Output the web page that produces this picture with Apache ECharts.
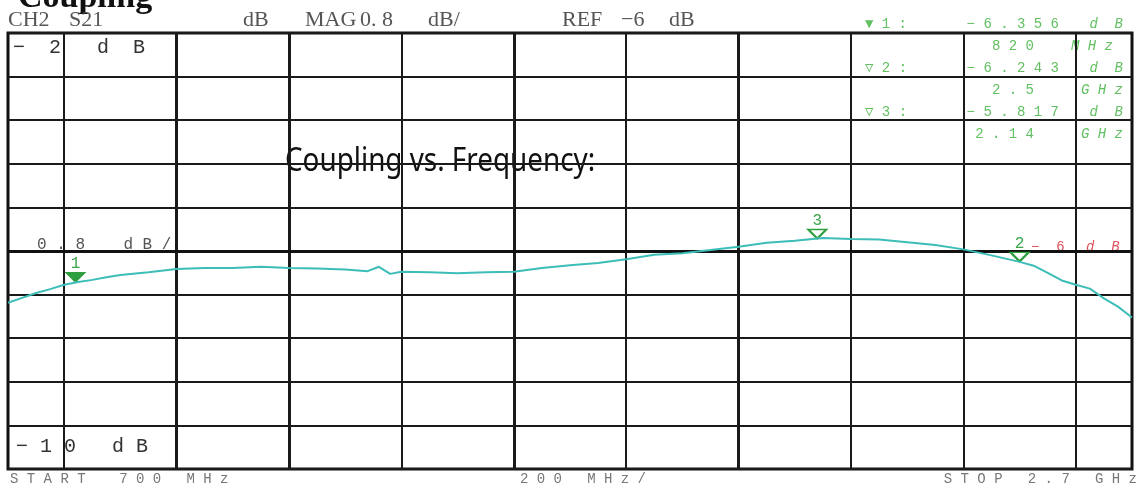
<!DOCTYPE html>
<html>
<head>
<meta charset="utf-8">
<script src="https://cdn.jsdelivr.net/npm/echarts@6/dist/echarts.min.js"></script>
<style>
html,body{margin:0;padding:0;background:#fff;}
#chart{width:1139px;height:487px;}
</style>
</head>
<body>
<div id="chart"></div>
<script>
const freqMHz = [700, 725, 750, 775, 800, 825, 850, 875, 900, 950, 1000, 1050, 1100, 1150, 1200, 1250, 1300, 1340, 1360, 1380, 1400, 1450, 1500, 1550, 1600, 1650, 1700, 1750, 1800, 1850, 1900, 1950, 2000, 2050, 2100, 2150, 2200, 2250, 2300, 2350, 2400, 2450, 2500, 2525, 2550, 2575, 2600, 2625, 2650, 2675, 2700];
const s21dB = [-6.95, -6.86, -6.77, -6.70, -6.62, -6.57, -6.53, -6.48, -6.44, -6.39, -6.33, -6.31, -6.31, -6.29, -6.31, -6.32, -6.34, -6.37, -6.29, -6.42, -6.38, -6.39, -6.41, -6.39, -6.38, -6.31, -6.26, -6.22, -6.15, -6.07, -6.04, -5.98, -5.92, -5.85, -5.81, -5.76, -5.78, -5.79, -5.84, -5.89, -5.97, -6.08, -6.20, -6.27, -6.40, -6.54, -6.62, -6.69, -6.87, -7.02, -7.22];

// Vertical graticule positions (MHz) and which of them print heavier
const xGridMHz = [800, 1000, 1200, 1400, 1600, 1800, 2000, 2200, 2400, 2600];
const xGridHeavy = [false, true, true, false, true, false, true, false, false, false];

// Markers
const markerNames = ['1', '2', '3'];
const markerFreqMHz = [820, 2500, 2140];
const markerPlotDb = [-6.58, -6.20, -5.78];
const markerReadDb = ['−6.356', '−6.243', '−5.817'];
const markerReadFreq = ['820', '2.5', '2.14'];
const markerReadUnit = ['MHz', 'GHz', 'GHz'];

// Axis settings
const startMHz = 700, stopMHz = 2700;
const topDb = -2, bottomDb = -10, stepDb = 0.8, refDb = -6;

const chart = echarts.init(document.getElementById('chart'));
const sp = s => s.split('').join(' ');
const serif = '"Liberation Serif","DejaVu Serif",serif';
const mono = '"Liberation Mono","DejaVu Sans Mono",monospace';
const green = '#62c062';
const red = '#e0505a';
const hdr = '#555';

const graphics = [
  {type:'text', left: 18, top: -19, style:{text:'Coupling', font:'bold 34px ' + serif, fill:'#111'}},
  {type:'text', left: 8, top: 9, style:{text:'CH2', font:'22px ' + serif, fill:hdr}},
  {type:'text', left: 69, top: 9, style:{text:'S21', font:'22px ' + serif, fill:hdr}},
  {type:'text', left: 243, top: 9, style:{text:'dB', font:'22px ' + serif, fill:hdr}},
  {type:'text', left: 305, top: 9, style:{text:'MAG', font:'22px ' + serif, fill:hdr}},
  {type:'text', left: 360, top: 9, style:{text:'0. 8', font:'22px ' + serif, fill:hdr}},
  {type:'text', left: 428, top: 9, style:{text:'dB/', font:'22px ' + serif, fill:hdr}},
  {type:'text', left: 562, top: 9, style:{text:'REF', font:'22px ' + serif, fill:hdr}},
  {type:'text', left: 621, top: 9, style:{text:'−6', font:'22px ' + serif, fill:hdr}},
  {type:'text', left: 669, top: 9, style:{text:'dB', font:'22px ' + serif, fill:hdr}},
  {type:'text', left: 13, top: 38, style:{text:'−  2', font:'20px ' + mono, fill:'#333'}},
  {type:'text', left: 97, top: 38, style:{text:'d  B', font:'20px ' + mono, fill:'#333'}},
  {type:'rect', shape:{x: 35, y: 234, width: 138, height: 23}, style:{fill:'#fff'}},
  {type:'text', left: 37, top: 237, style:{text:'0 . 8    d B /', font:'16px ' + mono, fill:'#555'}},
  {type:'rect', shape:{x: 14, y: 436, width: 80, height: 26}, style:{fill:'#fff'}},
  {type:'text', left: 16, top: 437, style:{text:'− 1 0', font:'20px ' + mono, fill:'#333'}},
  {type:'text', left: 112, top: 437, style:{text:'d B', font:'20px ' + mono, fill:'#333'}},
  {type:'text', left: 10, top: 472, style:{text:sp('START') + '    ' + sp('700') + '   ' + sp('MHz'), font:'14px ' + mono, fill:'#777'}},
  {type:'text', left: 520, top: 472, style:{text:sp('200') + '   ' + sp('MHz/'), font:'14px ' + mono, fill:'#777'}},
  {type:'text', right: 2, top: 472, style:{text:sp('STOP') + '   ' + sp('2.7') + '   ' + sp('GHz'), font:'14px ' + mono, fill:'#777', align:'right'}},
  {type:'text', x: 285, y: 146, scaleX: 0.87, style:{text:'Coupling vs. Frequency:', font:'32px "Noto Sans","Liberation Sans",sans-serif', fill:'#111'}},
  {type:'text', left: 1031, top: 240, style:{text:'−  6', font:'14px ' + mono, fill: red}},
  {type:'text', left: 1086, top: 240, style:{text:'d  B', font:'italic 14px ' + mono, fill: red}}
];
// marker readouts
const glyph = ['▼', '▽', '▽'];
for (let i = 0; i < 3; i++) {
  const y0 = 17 + i * 44;
  graphics.push({type:'text', left: 865, top: y0, style:{text: glyph[i] + ' ' + sp(markerNames[i] + ':'), font:'14px ' + mono, fill: green}});
  graphics.push({type:'text', right: 80, top: y0, style:{text: sp(markerReadDb[i]), font:'14px ' + mono, fill: green, align:'right'}});
  graphics.push({type:'text', right: 16, top: y0, style:{text: 'd  B', font:'italic 14px ' + mono, fill: green, align:'right'}});
  graphics.push({type:'text', right: 105, top: y0 + 22, style:{text: sp(markerReadFreq[i]), font:'14px ' + mono, fill: green, align:'right'}});
  graphics.push({type:'text', right: i === 0 ? 26 : 16, top: y0 + 22, style:{text: sp(markerReadUnit[i]), font:'italic 14px ' + mono, fill: green, align:'right'}});
}

const markData = markerNames.map((n, i) => ({
  name: n,
  coord: [markerFreqMHz[i], markerPlotDb[i]],
  symbol: 'triangle',
  symbolRotate: 180,
  symbolSize: i === 0 ? [22, 11] : [18, 9],
  symbolOffset: [0, -5],
  itemStyle: i === 0 ? {color: '#2e9e3e'} : {color: 'rgba(255,255,255,0)', borderColor: '#2e9e3e', borderWidth: 2},
  label: {show: true, position: 'top', distance: 0, formatter: n, color: '#3aa54a', fontSize: 16, fontFamily: mono}
}));

const gridLines = xGridMHz.map((f, i) => ({xAxis: f, lineStyle: {color: '#1a1a1a', width: xGridHeavy[i] ? 3 : 2, type: 'solid'}}));
gridLines.push({yAxis: refDb, lineStyle: {color: '#111', width: 3, type: 'solid'}});

chart.setOption({
  animation: false,
  backgroundColor: '#fff',
  grid: {left: 8, right: 7, top: 33, bottom: 18, show: true, borderColor: '#111', borderWidth: 3, backgroundColor: 'transparent'},
  xAxis: {
    type: 'value', min: startMHz, max: stopMHz,
    axisLine: {show: false}, axisTick: {show: false}, axisLabel: {show: false},
    splitLine: {show: false}
  },
  yAxis: {
    type: 'value', min: bottomDb, max: topDb, interval: stepDb,
    axisLine: {show: false}, axisTick: {show: false}, axisLabel: {show: false},
    splitLine: {show: true, lineStyle: {color: '#1a1a1a', width: 2}}
  },
  graphic: graphics,
  series: [{
    type: 'line',
    data: freqMHz.map((f, i) => [f, s21dB[i]]),
    showSymbol: false,
    lineStyle: {color: '#3dbdb8', width: 2},
    itemStyle: {color: '#3dbdb8'},
    z: 5,
    markLine: {
      silent: true, symbol: 'none', label: {show: false}, z: 4,
      data: gridLines
    },
    markPoint: {data: markData}
  }]
});
</script>
</body>
</html>
